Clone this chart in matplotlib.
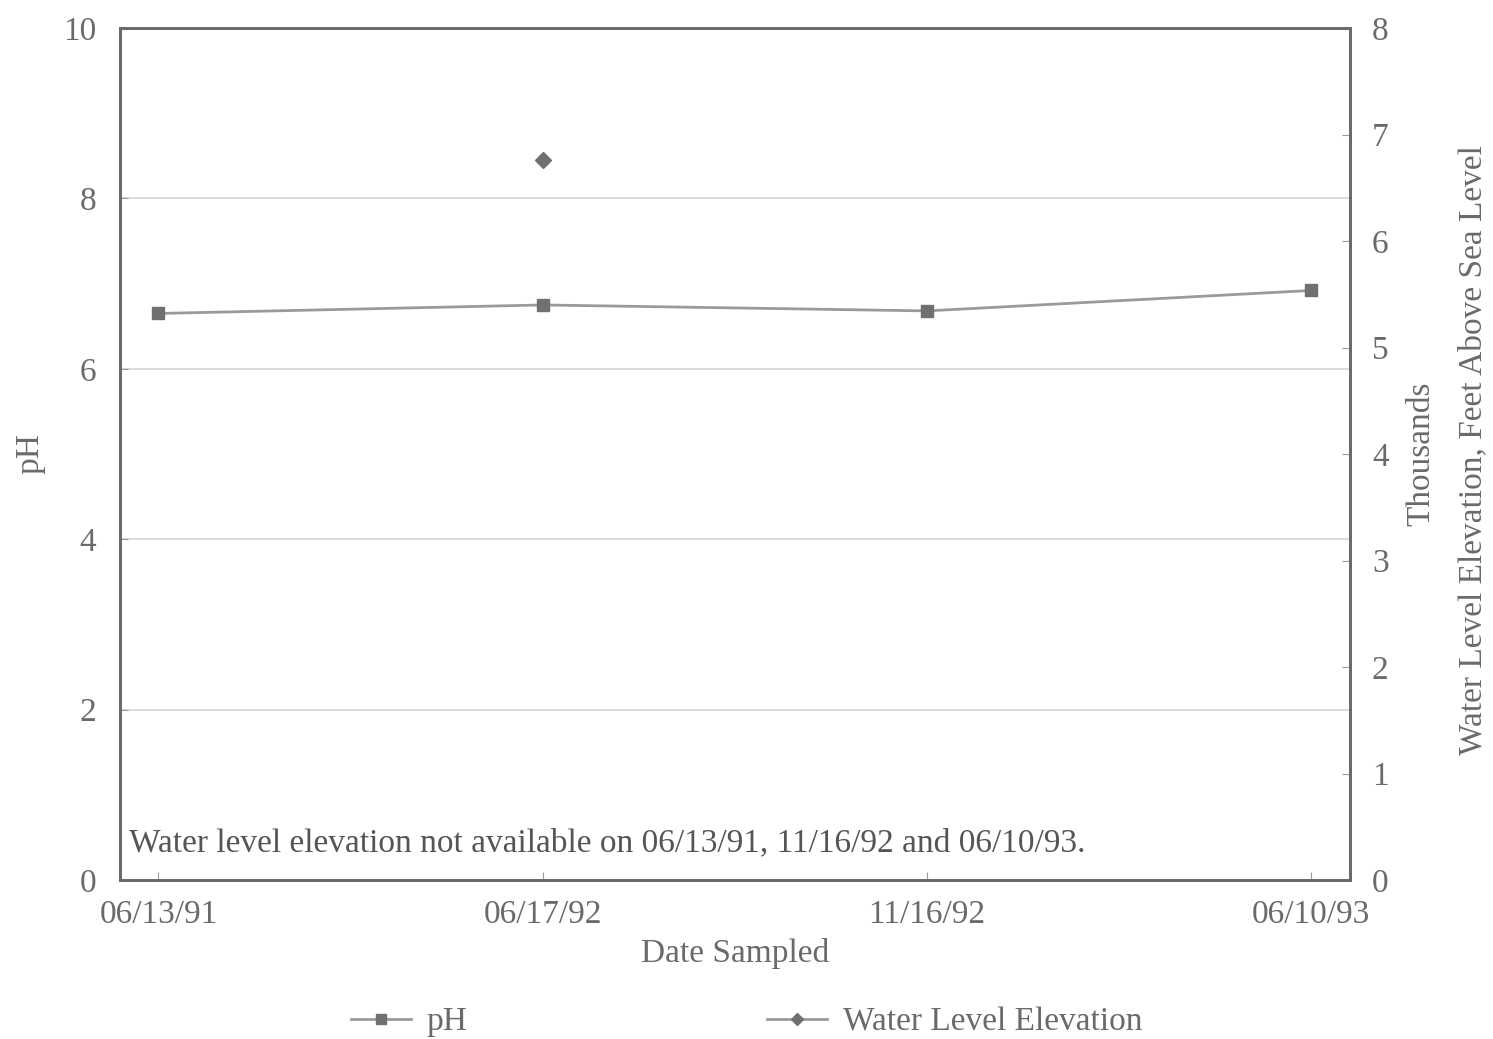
import numpy as np
import matplotlib.pyplot as plt

plt.rcParams['font.family'] = ['Liberation Serif', 'DejaVu Serif']

dates = ['06/13/91', '06/17/92', '11/16/92', '06/10/93']
ph = [6.65, 6.75, 6.68, 6.92]
water_dates = ['06/17/92']
water_level = [6.76]  # thousands of feet

txt = '#6a6a6a'
fs = 24
x = np.arange(len(dates))
xw = [dates.index(d) for d in water_dates]

fig = plt.figure(figsize=(14.93, 10.39), dpi=100)
ax = fig.add_axes([0.0804, 0.153, 0.8236, 0.82])
ax2 = ax.twinx()

l1, = ax.plot(x, ph, color='#9a9a9a', lw=2, marker='s', ms=9,
              mfc='#707070', mec='#707070', label='pH')
l2, = ax2.plot(xw, water_level, color='#9a9a9a', lw=2, marker='D', ms=8,
               mfc='#707070', mec='#707070', linestyle='-', label='Water Level Elevation')

ax.set_xlim(-0.1, 3.1)
ax.set_ylim(0, 10)
ax2.set_ylim(0, 8)
ax.set_xticks(x)
ax.set_xticklabels(dates)
ax.set_yticks([0, 2, 4, 6, 8, 10])
ax2.set_yticks(range(9))
ax.yaxis.grid(True, color='#d4d4d4', lw=1.2)
ax.set_axisbelow(True)

for a in (ax, ax2):
    for s in a.spines.values():
        s.set_color('#6a6a6a')
        s.set_linewidth(2)
    a.tick_params(direction='in', colors='#9a9a9a', labelcolor=txt,
                  labelsize=fs, length=6)
ax.tick_params(axis='x', pad=14)
ax.tick_params(axis='y', pad=17)
ax2.tick_params(axis='y', pad=16)

ax.text(-0.073, 0.5, 'pH', transform=ax.transAxes, rotation=90,
        fontsize=fs, color=txt, ha='center', va='center')
ax.text(0.5, -0.086, 'Date Sampled', transform=ax.transAxes,
        fontsize=fs, color=txt, ha='center', va='center')
ax2.text(1.0585, 0.50, 'Thousands', transform=ax2.transAxes, rotation=90,
         fontsize=fs, color=txt, ha='center', va='center')
ax2.text(1.100, 0.505, 'Water Level Elevation, Feet Above Sea Level',
         transform=ax2.transAxes, rotation=90,
         fontsize=fs, color=txt, ha='center', va='center')

ax.text(0.007, 0.026, 'Water level elevation not available on 06/13/91, 11/16/92 and 06/10/93.',
        transform=ax.transAxes, fontsize=fs, color='#555555', ha='left', va='bottom')

fig.legend([l1, l2], ['pH', 'Water Level Elevation'], loc='center',
           bbox_to_anchor=(0.5, 0.0164), ncol=2, frameon=False, fontsize=fs,
           labelcolor=txt, columnspacing=9.0, handlelength=1.8,
           handletextpad=0.47, borderpad=0, markerscale=0.8)

fig.savefig('out.png', dpi=100)
